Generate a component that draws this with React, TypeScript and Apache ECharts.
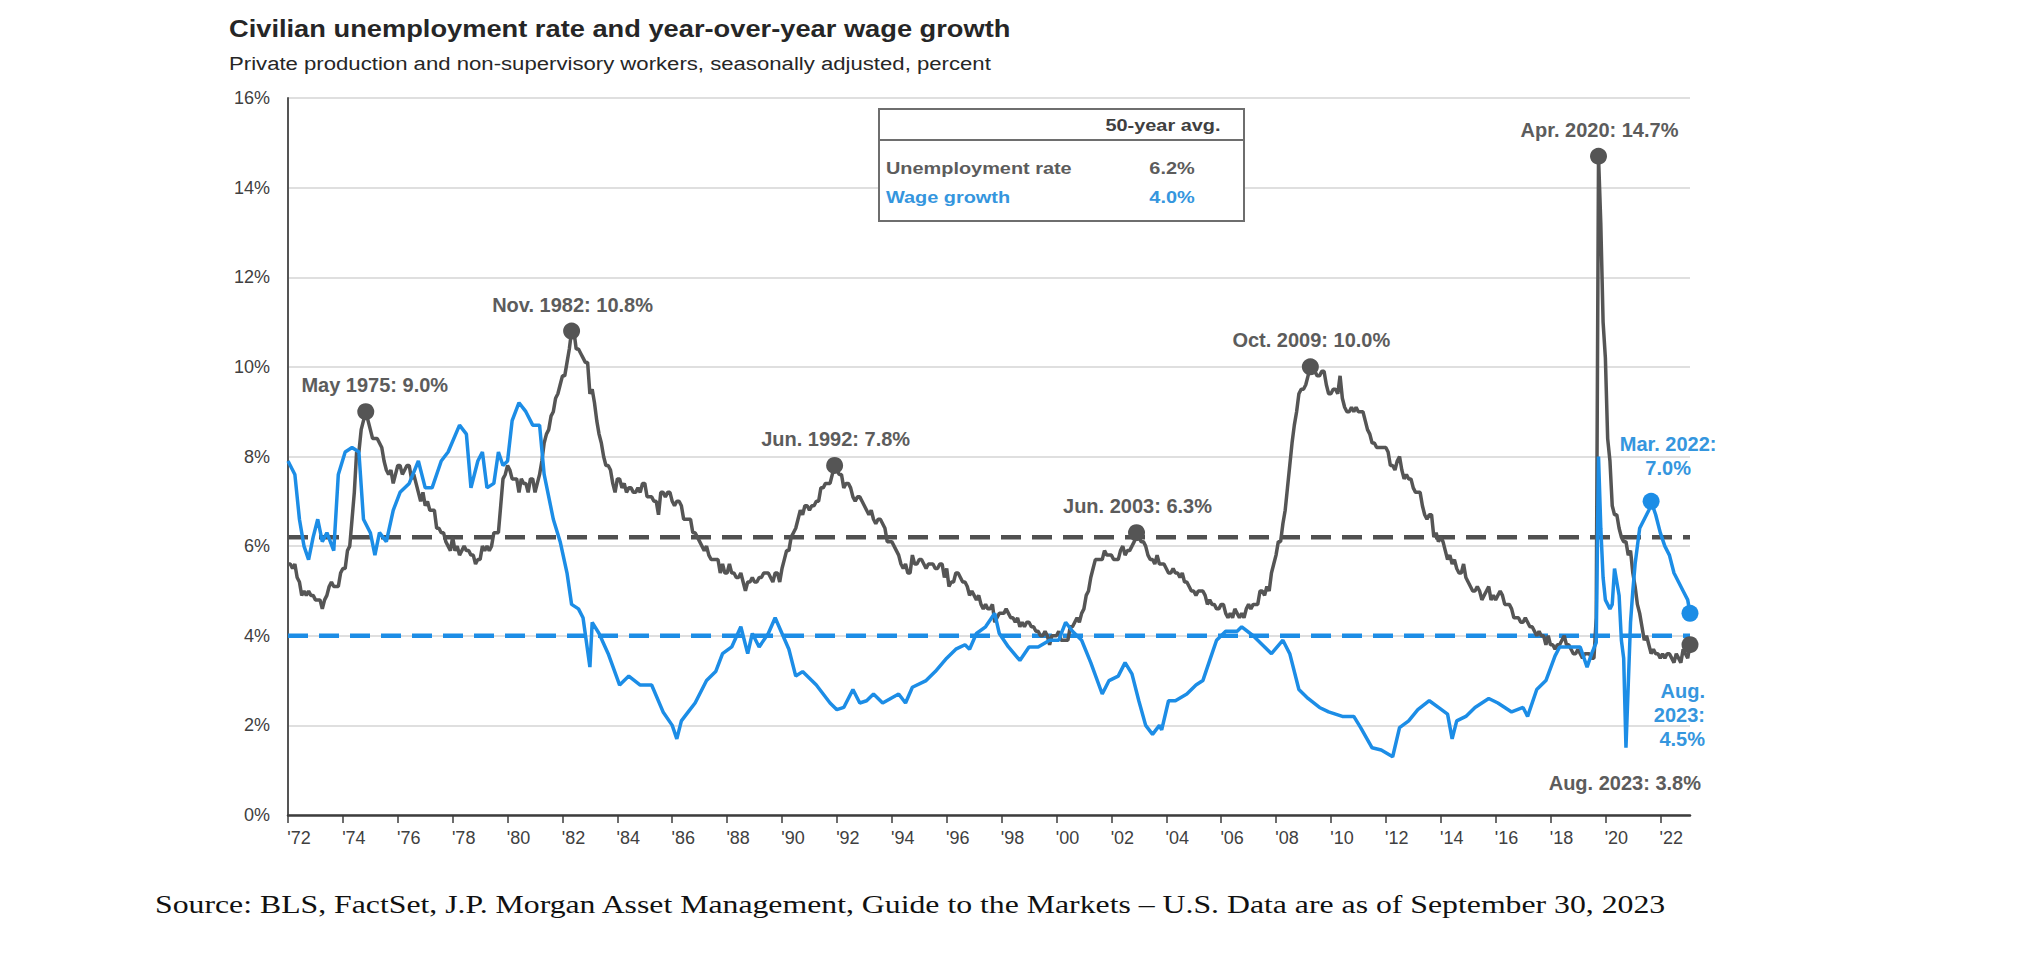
import React, { useEffect, useRef } from "react";
import * as echarts from "echarts";

// ---------- data ----------
const START_YEAR = 1972;
const START_MONTH = 7; // first monthly observation: Jul 1972

// Civilian unemployment rate, monthly, Jul 1972 .. Aug 2023 (percent)
const unemploymentRate: number[] = [
  5.6, 5.6, 5.5, 5.6, 5.3, 5.2,
  4.9, 5.0, 4.9, 5.0, 4.9, 4.9, 4.8, 4.8, 4.8, 4.6, 4.8, 4.9,
  5.1, 5.2, 5.1, 5.1, 5.1, 5.4, 5.5, 5.5, 5.9, 6.0, 6.6, 7.2,
  8.1, 8.1, 8.6, 8.8, 9.0, 8.8, 8.6, 8.4, 8.4, 8.4, 8.3, 8.2,
  7.9, 7.7, 7.6, 7.7, 7.4, 7.6, 7.8, 7.8, 7.6, 7.7, 7.8, 7.8,
  7.5, 7.6, 7.4, 7.2, 7.0, 7.2, 6.9, 7.0, 6.8, 6.8, 6.8, 6.4,
  6.4, 6.3, 6.3, 6.1, 6.0, 5.9, 6.2, 5.9, 6.0, 5.8, 5.9, 6.0,
  5.9, 5.9, 5.8, 5.8, 5.6, 5.7, 5.7, 6.0, 5.9, 6.0, 5.9, 6.0,
  6.3, 6.3, 6.3, 6.9, 7.5, 7.6, 7.8, 7.7, 7.5, 7.5, 7.5, 7.2,
  7.5, 7.4, 7.4, 7.2, 7.5, 7.5, 7.2, 7.4, 7.6, 7.9, 8.3, 8.5,
  8.6, 8.9, 9.0, 9.3, 9.4, 9.6, 9.8, 9.8, 10.1, 10.4, 10.8, 10.8,
  10.4, 10.4, 10.3, 10.2, 10.1, 10.1, 9.4, 9.5, 9.2, 8.8, 8.5, 8.3,
  8.0, 7.8, 7.8, 7.7, 7.4, 7.2, 7.5, 7.5, 7.3, 7.4, 7.2, 7.3,
  7.3, 7.2, 7.2, 7.3, 7.2, 7.4, 7.4, 7.1, 7.1, 7.1, 7.0, 7.0,
  6.7, 7.2, 7.2, 7.1, 7.2, 7.2, 7.0, 6.9, 7.0, 7.0, 6.9, 6.6,
  6.6, 6.6, 6.6, 6.3, 6.3, 6.2, 6.1, 6.0, 5.9, 6.0, 5.8, 5.7,
  5.7, 5.7, 5.7, 5.4, 5.6, 5.4, 5.4, 5.6, 5.4, 5.4, 5.3, 5.3,
  5.4, 5.2, 5.0, 5.2, 5.2, 5.3, 5.2, 5.2, 5.3, 5.3, 5.4, 5.4,
  5.4, 5.3, 5.2, 5.4, 5.4, 5.2, 5.5, 5.7, 5.9, 5.9, 6.2, 6.3,
  6.4, 6.6, 6.8, 6.7, 6.9, 6.9, 6.8, 6.9, 6.9, 7.0, 7.0, 7.3,
  7.3, 7.4, 7.4, 7.4, 7.6, 7.8, 7.7, 7.6, 7.6, 7.3, 7.4, 7.4,
  7.3, 7.1, 7.0, 7.1, 7.1, 7.0, 6.9, 6.8, 6.7, 6.8, 6.6, 6.5,
  6.6, 6.6, 6.5, 6.4, 6.1, 6.1, 6.1, 6.0, 5.9, 5.8, 5.6, 5.5,
  5.6, 5.4, 5.4, 5.8, 5.6, 5.6, 5.7, 5.7, 5.6, 5.5, 5.6, 5.6,
  5.6, 5.5, 5.5, 5.6, 5.6, 5.3, 5.5, 5.1, 5.2, 5.2, 5.4, 5.4,
  5.3, 5.2, 5.2, 5.1, 4.9, 5.0, 4.9, 4.8, 4.9, 4.7, 4.6, 4.7,
  4.6, 4.6, 4.7, 4.3, 4.4, 4.5, 4.5, 4.5, 4.6, 4.5, 4.4, 4.4,
  4.3, 4.4, 4.2, 4.3, 4.2, 4.3, 4.3, 4.2, 4.2, 4.1, 4.1, 4.0,
  4.0, 4.1, 4.0, 3.8, 4.0, 4.0, 4.0, 4.1, 3.9, 3.9, 3.9, 3.9,
  4.2, 4.2, 4.3, 4.4, 4.3, 4.5, 4.6, 4.9, 5.0, 5.3, 5.5, 5.7,
  5.7, 5.7, 5.7, 5.9, 5.8, 5.8, 5.8, 5.7, 5.7, 5.7, 5.9, 6.0,
  5.8, 5.9, 5.9, 6.0, 6.1, 6.3, 6.2, 6.1, 6.1, 6.0, 5.8, 5.7,
  5.7, 5.6, 5.8, 5.6, 5.6, 5.6, 5.5, 5.4, 5.4, 5.5, 5.4, 5.4,
  5.3, 5.4, 5.2, 5.2, 5.1, 5.0, 5.0, 4.9, 5.0, 5.0, 5.0, 4.9,
  4.7, 4.8, 4.7, 4.7, 4.6, 4.6, 4.7, 4.7, 4.5, 4.4, 4.5, 4.4,
  4.6, 4.5, 4.4, 4.5, 4.4, 4.6, 4.7, 4.6, 4.7, 4.7, 4.7, 5.0,
  5.0, 4.9, 5.1, 5.0, 5.4, 5.6, 5.8, 6.1, 6.1, 6.5, 6.8, 7.3,
  7.8, 8.3, 8.7, 9.0, 9.4, 9.5, 9.5, 9.6, 9.8, 10.0, 9.9, 9.9,
  9.8, 9.8, 9.9, 9.9, 9.6, 9.4, 9.4, 9.5, 9.5, 9.4, 9.8, 9.3,
  9.1, 9.0, 9.0, 9.1, 9.0, 9.1, 9.0, 9.0, 9.0, 8.8, 8.6, 8.5,
  8.3, 8.3, 8.2, 8.2, 8.2, 8.2, 8.2, 8.1, 7.8, 7.8, 7.7, 7.9,
  8.0, 7.7, 7.5, 7.6, 7.5, 7.5, 7.3, 7.2, 7.2, 7.2, 6.9, 6.7,
  6.6, 6.7, 6.7, 6.2, 6.3, 6.1, 6.2, 6.1, 5.9, 5.7, 5.8, 5.6,
  5.7, 5.5, 5.4, 5.4, 5.6, 5.3, 5.2, 5.1, 5.0, 5.0, 5.1, 5.0,
  4.8, 4.9, 5.0, 5.1, 4.8, 4.9, 4.8, 4.9, 5.0, 4.9, 4.7, 4.7,
  4.7, 4.6, 4.4, 4.4, 4.4, 4.3, 4.3, 4.4, 4.3, 4.2, 4.2, 4.1,
  4.0, 4.1, 4.0, 4.0, 3.8, 4.0, 3.8, 3.8, 3.7, 3.8, 3.8, 3.9,
  4.0, 3.8, 3.8, 3.7, 3.6, 3.6, 3.7, 3.6, 3.5, 3.6, 3.6, 3.6,
  3.5, 3.5, 4.4, 14.7, 13.2, 11.0, 10.2, 8.4, 7.9, 6.9, 6.7, 6.7,
  6.4, 6.2, 6.1, 6.1, 5.8, 5.9, 5.4, 5.1, 4.7, 4.5, 4.2, 3.9,
  4.0, 3.8, 3.6, 3.7, 3.6, 3.6, 3.5, 3.6, 3.5, 3.6, 3.6, 3.5,
  3.4, 3.6, 3.5, 3.4, 3.7, 3.6, 3.5, 3.8,
];

// Year-over-year wage growth, production & non-supervisory workers
const wageGrowth: [string, number][] = [
  ["1972-07", 7.9], ["1972-10", 7.6], ["1972-12", 6.6], ["1973-02", 6.0], ["1973-04", 5.7],
  ["1973-06", 6.2], ["1973-08", 6.6], ["1973-10", 6.1], ["1973-12", 6.3], ["1974-03", 5.9],
  ["1974-05", 7.6], ["1974-08", 8.1], ["1974-11", 8.2], ["1975-02", 8.1], ["1975-04", 6.6],
  ["1975-07", 6.3], ["1975-09", 5.8], ["1975-11", 6.3], ["1976-02", 6.1], ["1976-05", 6.8],
  ["1976-08", 7.2], ["1976-12", 7.4], ["1977-04", 7.9], ["1977-07", 7.3], ["1977-10", 7.3],
  ["1978-02", 7.9], ["1978-05", 8.1], ["1978-10", 8.7], ["1979-01", 8.5], ["1979-03", 7.3],
  ["1979-06", 7.9], ["1979-08", 8.1], ["1979-10", 7.3], ["1980-01", 7.4], ["1980-03", 8.1],
  ["1980-05", 7.8], ["1980-07", 7.9], ["1980-09", 8.8], ["1980-12", 9.2], ["1981-03", 9.0],
  ["1981-06", 8.7], ["1981-09", 8.7], ["1981-11", 7.6], ["1982-03", 6.6], ["1982-06", 6.1],
  ["1982-09", 5.4], ["1982-11", 4.7], ["1983-02", 4.6], ["1983-04", 4.4], ["1983-07", 3.3],
  ["1983-08", 4.3], ["1983-11", 4.05], ["1984-03", 3.6], ["1984-08", 2.9], ["1984-12", 3.1],
  ["1985-05", 2.9], ["1985-10", 2.9], ["1986-03", 2.3], ["1986-07", 2.0], ["1986-09", 1.7],
  ["1986-11", 2.1], ["1987-02", 2.3], ["1987-05", 2.5], ["1987-10", 3.0], ["1988-02", 3.2],
  ["1988-05", 3.6], ["1988-09", 3.75], ["1989-01", 4.2], ["1989-04", 3.6], ["1989-06", 4.05],
  ["1989-09", 3.75], ["1990-01", 4.05], ["1990-04", 4.4], ["1990-07", 4.05], ["1990-10", 3.7],
  ["1991-01", 3.1], ["1991-04", 3.2], ["1991-10", 2.9], ["1992-04", 2.5], ["1992-07", 2.35],
  ["1992-10", 2.4], ["1993-02", 2.8], ["1993-05", 2.5], ["1993-08", 2.55], ["1993-11", 2.7],
  ["1994-03", 2.5], ["1994-10", 2.7], ["1995-01", 2.5], ["1995-04", 2.85], ["1995-10", 3.0],
  ["1996-02", 3.2], ["1996-07", 3.5], ["1996-11", 3.7], ["1997-03", 3.8], ["1997-05", 3.7],
  ["1997-08", 4.05], ["1997-12", 4.2], ["1998-04", 4.5], ["1998-06", 4.05], ["1998-10", 3.75],
  ["1999-03", 3.45], ["1999-07", 3.75], ["1999-11", 3.75], ["2000-04", 3.9], ["2000-08", 3.9],
  ["2000-11", 4.3], ["2001-02", 4.1], ["2001-06", 3.9], ["2001-10", 3.4], ["2002-03", 2.7],
  ["2002-06", 3.0], ["2002-10", 3.1], ["2003-01", 3.4], ["2003-04", 3.15], ["2003-07", 2.55],
  ["2003-10", 2.0], ["2004-01", 1.8], ["2004-04", 2.0], ["2004-05", 1.9], ["2004-08", 2.55],
  ["2004-11", 2.55], ["2005-04", 2.7], ["2005-08", 2.9], ["2005-11", 3.0], ["2006-02", 3.45],
  ["2006-05", 3.9], ["2006-09", 4.1], ["2007-02", 4.1], ["2007-04", 4.2], ["2007-09", 4.0],
  ["2008-01", 3.8], ["2008-05", 3.6], ["2008-10", 3.9], ["2009-01", 3.6], ["2009-05", 2.8],
  ["2009-09", 2.6], ["2010-02", 2.4], ["2010-06", 2.3], ["2010-12", 2.2], ["2011-05", 2.2],
  ["2011-08", 1.95], ["2012-01", 1.5], ["2012-05", 1.45], ["2012-10", 1.3], ["2013-01", 1.95],
  ["2013-05", 2.1], ["2013-09", 2.35], ["2014-02", 2.55], ["2014-06", 2.4], ["2014-10", 2.25],
  ["2014-12", 1.7], ["2015-02", 2.1], ["2015-06", 2.2], ["2015-10", 2.4], ["2016-04", 2.6],
  ["2016-08", 2.5], ["2017-02", 2.3], ["2017-07", 2.4], ["2017-09", 2.2], ["2018-01", 2.8],
  ["2018-05", 3.0], ["2018-09", 3.55], ["2018-11", 3.75], ["2019-03", 3.75], ["2019-08", 3.75],
  ["2019-11", 3.3], ["2020-01", 3.6], ["2020-03", 3.85], ["2020-04", 8.0], ["2020-05", 6.4],
  ["2020-06", 5.3], ["2020-07", 4.8], ["2020-08", 4.7], ["2020-09", 4.6], ["2020-10", 4.7],
  ["2020-11", 5.5], ["2020-12", 5.2], ["2021-01", 4.9], ["2021-02", 3.9], ["2021-03", 3.5],
  ["2021-04", 1.5], ["2021-05", 2.9], ["2021-06", 4.3], ["2021-07", 5.0], ["2021-08", 5.6],
  ["2021-09", 6.0], ["2021-10", 6.4], ["2021-11", 6.5], ["2021-12", 6.6], ["2022-01", 6.7],
  ["2022-02", 6.8], ["2022-03", 7.0], ["2022-05", 6.7], ["2022-07", 6.3], ["2022-09", 6.0],
  ["2022-11", 5.8], ["2023-01", 5.4], ["2023-03", 5.2], ["2023-05", 5.0], ["2023-07", 4.8],
  ["2023-08", 4.5],
];

const unemploymentAvg = 6.2;
const wageAvg = 4.0;

const xTickYears = [1972, 1974, 1976, 1978, 1980, 1982, 1984, 1986, 1988, 1990, 1992, 1994, 1996,
  1998, 2000, 2002, 2004, 2006, 2008, 2010, 2012, 2014, 2016, 2018, 2020, 2022];
const yTicks = [0, 2, 4, 6, 8, 10, 12, 14, 16];

const unemploymentMarks = [
  { month: "1975-05", name: "May" },
  { month: "1982-11", name: "Nov." },
  { month: "1992-06", name: "Jun." },
  { month: "2003-06", name: "Jun." },
  { month: "2009-10", name: "Oct." },
  { month: "2020-04", name: "Apr." },
  { month: "2023-08", name: "Aug." },
];
const wageMarks = [
  { month: "2022-03", name: "Mar." },
  { month: "2023-08", name: "Aug." },
];

const TITLE = "Civilian unemployment rate and year-over-year wage growth";
const SUBTITLE = "Private production and non-supervisory workers, seasonally adjusted, percent";
const SOURCE = "Source: BLS, FactSet, J.P. Morgan Asset Management, Guide to the Markets \u2013 U.S. Data are as of September 30, 2023";

// ---------- styling ----------
const GRAY = "#555555";
const BLUE = "#1c8de6";
const GRAY_TEXT = "#5c5c5c";
const BLUE_TEXT = "#3596de";
const SANS = "'Liberation Sans', Arial, Helvetica, sans-serif";
const SERIF = "'Liberation Serif', 'Times New Roman', serif";
const SX = 1.17;

const toYear = (ym: string) => {
  const [y, m] = ym.split("-").map(Number);
  return y + (m - 1) / 12;
};
const monthIndex = (ym: string) => {
  const [y, m] = ym.split("-").map(Number);
  return (y - START_YEAR) * 12 + (m - START_MONTH);
};
const yearOfIndex = (i: number) => START_YEAR + (START_MONTH - 1 + i) / 12;

function measure(text: string, font: string) {
  const c = document.createElement("canvas").getContext("2d");
  if (!c) return 0;
  c.font = font;
  return c.measureText(text).width;
}

export default function App() {
  const ref = useRef<HTMLDivElement>(null);

  useEffect(() => {
    if (!ref.current) return;
    const chart = echarts.init(ref.current, undefined, { renderer: "svg" });

    const unempData = unemploymentRate.map((v, i) => [yearOfIndex(i), v]);
    const wageData = wageGrowth.map(([d, v]) => [toYear(d), v]);
    const xMin = yearOfIndex(0);
    const xMax = yearOfIndex(unemploymentRate.length - 1);
    const tickValues = xTickYears.map((y) => y + (START_MONTH - 1) / 12);

    const unempLabelStyle: Record<string, any> = {
      "1975-05": { offset: [9, 0] },
      "2023-08": { position: "bottom", distance: 0, align: "right", verticalAlign: "middle", offset: [11, 130] },
    };
    const wageLabelStyle: Record<string, any> = {
      "2022-03": { position: "top", distance: 0, align: "center", verticalAlign: "bottom", offset: [17, -13], lineHeight: 24 },
      "2023-08": { position: "bottom", distance: 0, align: "right", verticalAlign: "top", offset: [15, 57], lineHeight: 24 },
    };

    const unempPoints = unemploymentMarks.map((mk) => {
      const v = unemploymentRate[monthIndex(mk.month)];
      const yr = mk.month.slice(0, 4);
      return {
        value: [toYear(mk.month), v],
        label: {
          show: true,
          position: "top",
          distance: 8,
          offset: [1, 0],
          formatter: `${mk.name} ${yr}: ${v.toFixed(1)}%`,
          ...(unempLabelStyle[mk.month] || {}),
        },
      };
    });
    const wagePoints = wageMarks.map((mk) => {
      const found = wageGrowth.find(([d]) => d === mk.month);
      const v = found ? found[1] : 0;
      const yr = mk.month.slice(0, 4);
      const text = mk.month === "2023-08" ? `${mk.name}\n${yr}:\n${v.toFixed(1)}%` : `${mk.name} ${yr}:\n${v.toFixed(1)}%`;
      return {
        value: [toYear(mk.month), v],
        label: { show: true, formatter: text, ...(wageLabelStyle[mk.month] || {}) },
      };
    });

    const titleFont = `bold 24px ${SANS}`;
    const subFont = `19px ${SANS}`;
    const srcFont = `26px ${SERIF}`;
    const sxTitle = 782 / (measure(TITLE, titleFont) || 782);
    const sxSub = 762 / (measure(SUBTITLE, subFont) || 762);
    const sxSrc = 1513 / (measure(SOURCE, srcFont) || 1513);

    const tText = (text: string, x: number, y: number, size: number, opts: any = {}) => ({
      type: "text",
      x,
      y,
      scaleX: opts.scaleX ?? SX,
      z: 100,
      style: {
        text,
        fontSize: size,
        fontWeight: opts.weight ?? "bold",
        fontFamily: opts.family ?? SANS,
        fill: opts.fill ?? "#404040",
        align: opts.align ?? "left",
        verticalAlign: "middle",
      },
    });

    const option: any = {
      animation: false,
      backgroundColor: "#ffffff",
      grid: { left: 288, top: 98, width: 1402, height: 717, containLabel: false },
      xAxis: {
        type: "value",
        min: xMin,
        max: xMax,
        axisLine: { show: true, onZero: false, lineStyle: { color: "#3d3d3d", width: 2.5 } },
        axisTick: {
          show: true,
          length: 8,
          customValues: tickValues,
          lineStyle: { color: "#3d3d3d", width: 1.5 },
        },
        axisLabel: {
          customValues: tickValues,
          formatter: (v: number) => "'" + String(Math.floor(v) % 100).padStart(2, "0"),
          margin: 14,
          padding: [0, 0, 0, 22],
          fontSize: 18,
          fontFamily: SANS,
          color: "#404040",
        },
        splitLine: { show: false },
      },
      yAxis: {
        type: "value",
        min: yTicks[0],
        max: yTicks[yTicks.length - 1],
        interval: yTicks[1] - yTicks[0],
        axisLine: { show: true, lineStyle: { color: "#555555", width: 2 } },
        axisTick: { show: false },
        axisLabel: { formatter: "{value}%", margin: 18, fontSize: 18, fontFamily: SANS, color: "#404040" },
        splitLine: { show: true, lineStyle: { color: "#d4d4d4", width: 1.5 } },
      },
      series: [
        {
          name: "Unemployment 50-year avg.",
          type: "line",
          data: [[xMin, unemploymentAvg], [xMax, unemploymentAvg]],
          showSymbol: false,
          symbol: "none",
          lineStyle: { color: "#505050", width: 4.5, type: [20, 11] },
          silent: true,
        },
        {
          name: "Wage growth 50-year avg.",
          type: "line",
          data: [[xMin, wageAvg], [xMax, wageAvg]],
          showSymbol: false,
          symbol: "none",
          lineStyle: { color: BLUE, width: 4.5, type: [20, 11] },
          silent: true,
        },
        {
          name: "Unemployment rate",
          type: "line",
          data: unempData,
          showSymbol: false,
          symbol: "none",
          lineStyle: { color: GRAY, width: 3.5 },
        },
        {
          name: "Wage growth",
          type: "line",
          data: wageData,
          showSymbol: false,
          symbol: "none",
          lineStyle: { color: BLUE, width: 3.5 },
        },
        {
          name: "Unemployment highlights",
          type: "scatter",
          z: 5,
          symbolSize: 17,
          itemStyle: { color: GRAY, opacity: 1 },
          label: { fontSize: 20, fontWeight: "bold", fontFamily: SANS, color: GRAY_TEXT },
          data: unempPoints,
        },
        {
          name: "Wage highlights",
          type: "scatter",
          z: 6,
          symbolSize: 17,
          itemStyle: { color: BLUE, opacity: 1 },
          label: { fontSize: 20, fontWeight: "bold", fontFamily: SANS, color: BLUE_TEXT },
          data: wagePoints,
        },
      ],
      graphic: [
        tText(TITLE, 229, 29, 24, { scaleX: sxTitle, fill: "#262626" }),
        tText(SUBTITLE, 229, 63, 19, { scaleX: sxSub, weight: "normal", fill: "#262626" }),
        {
          type: "rect",
          z: 90,
          shape: { x: 879, y: 109, width: 365, height: 112 },
          style: { fill: "#ffffff", stroke: "#6e6e6e", lineWidth: 2 },
        },
        {
          type: "line",
          z: 91,
          shape: { x1: 879, y1: 140, x2: 1244, y2: 140 },
          style: { stroke: "#6e6e6e", lineWidth: 2 },
        },
        tText("50-year avg.", 1163, 125, 17, { align: "center", fill: "#404040" }),
        tText("Unemployment rate", 886, 168, 17, { fill: GRAY_TEXT }),
        tText(`${unemploymentAvg.toFixed(1)}%`, 1172, 168, 17, { align: "center", fill: GRAY_TEXT }),
        tText("Wage growth", 886, 197, 17, { fill: BLUE_TEXT }),
        tText(`${wageAvg.toFixed(1)}%`, 1172, 197, 17, { align: "center", fill: BLUE_TEXT }),
        tText(SOURCE, 155, 904, 26, { scaleX: sxSrc, weight: "normal", family: SERIF, fill: "#111111" }),
      ],
    };

    chart.setOption(option);
    return () => chart.dispose();
  }, []);

  return (
    <div
      ref={ref}
      style={{ position: "absolute", left: 0, top: 0, width: 2044, height: 964, background: "#ffffff" }}
    />
  );
}
